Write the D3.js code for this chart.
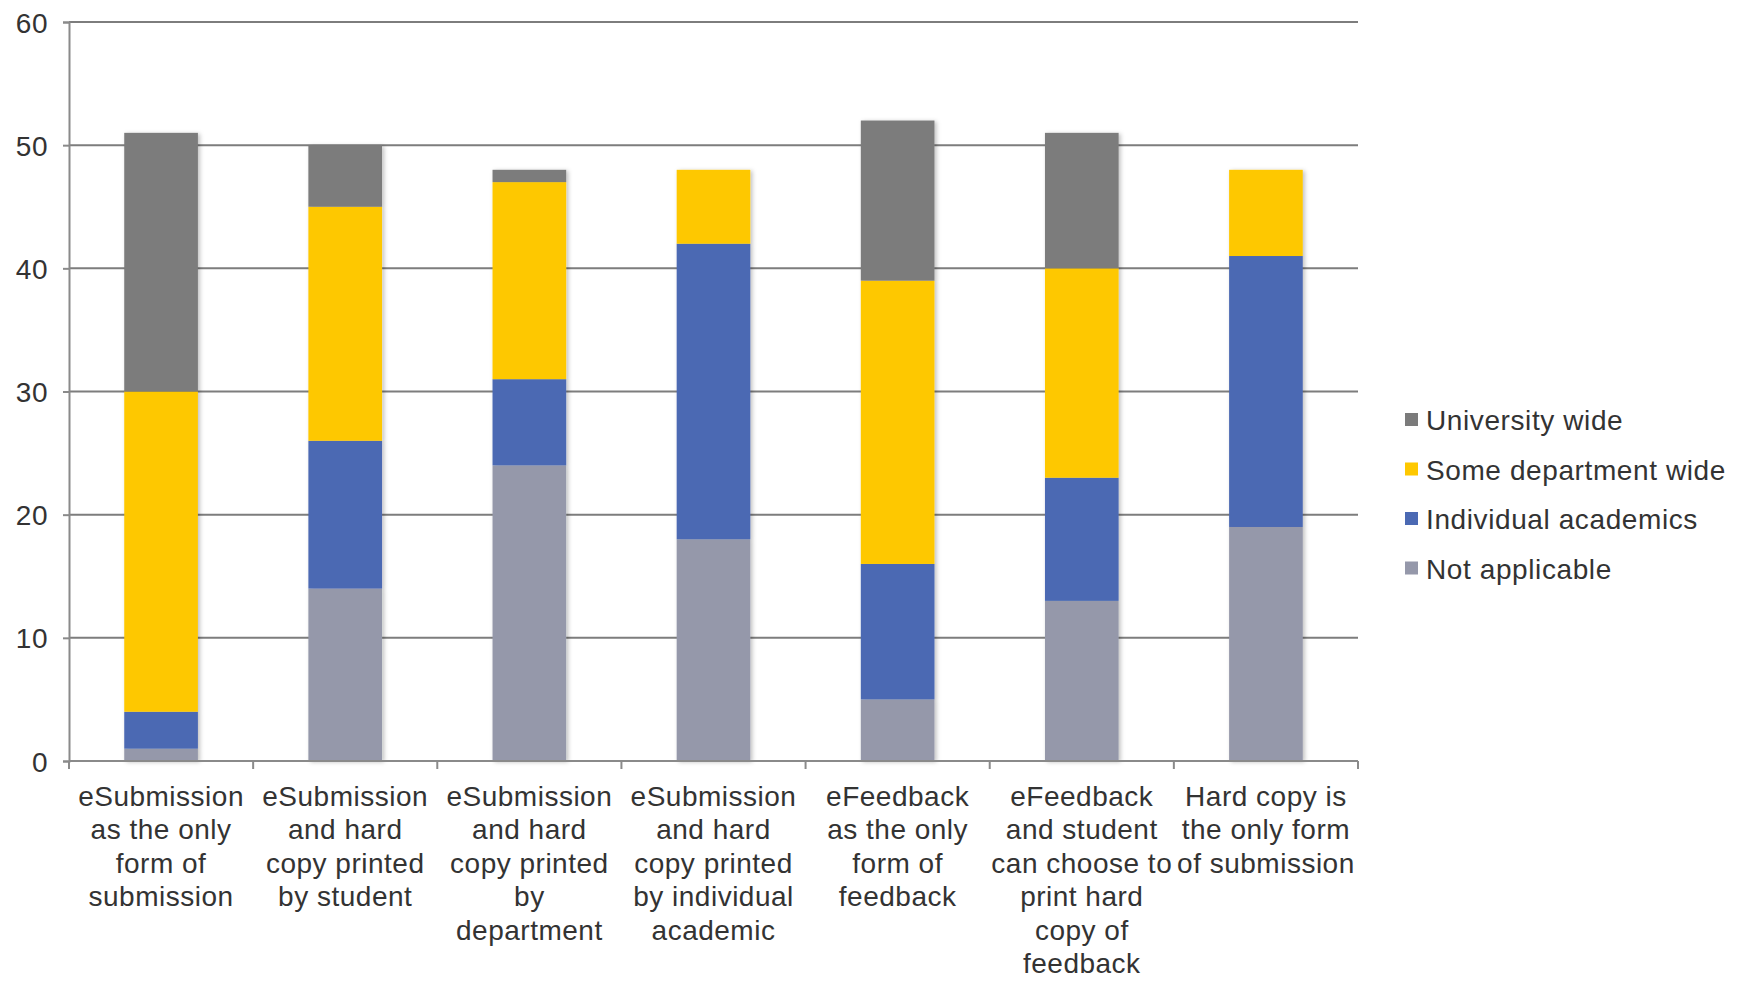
<!DOCTYPE html>
<html>
<head>
<meta charset="utf-8">
<script src="https://cdn.jsdelivr.net/npm/d3@7"></script>
<style>
  html, body { margin: 0; padding: 0; background: #fff; }
  svg { display: block; }
  text { font-family: "Liberation Sans", Arial, sans-serif; fill: #333; }
</style>
</head>
<body>
<svg id="chart" width="1746" height="983"></svg>
<script>
const categories = [
  "eSubmission\nas the only\nform of\nsubmission",
  "eSubmission\nand hard\ncopy printed\nby student",
  "eSubmission\nand hard\ncopy printed\nby\ndepartment",
  "eSubmission\nand hard\ncopy printed\nby individual\nacademic",
  "eFeedback\nas the only\nform of\nfeedback",
  "eFeedback\nand student\ncan choose to\nprint hard\ncopy of\nfeedback",
  "Hard copy is\nthe only form\nof submission"
];
const seriesNames = ["Not applicable", "Individual academics", "Some department wide", "University wide"];
const notApplicable   = [1, 14, 24, 18, 5, 13, 19];
const individual      = [3, 12, 7, 24, 11, 10, 22];
const someDepartment  = [26, 19, 16, 6, 23, 17, 7];
const universityWide  = [21, 5, 1, 0, 13, 11, 0];
const yTicks = [0, 10, 20, 30, 40, 50, 60];
const colors = ["#9598aa", "#4b69b3", "#fec800", "#7b7b7b"];

const seriesValues = [notApplicable, individual, someDepartment, universityWide];
const table = categories.map((c, i) => {
  const row = { cat: c };
  seriesNames.forEach((s, k) => row[s] = seriesValues[k][i]);
  return row;
});

const svg = d3.select("#chart");
const mLeft = 69, mRight = 1358, mTop = 22, mBottom = 761;

const x = d3.scaleBand().domain(categories).range([mLeft, mRight]).paddingInner(0.6).paddingOuter(0.3);
const y = d3.scaleLinear().domain([0, 60]).range([mBottom, mTop]);

const defs = svg.append("defs");
const f = defs.append("filter").attr("id", "shadow").attr("x", "-20%").attr("y", "-5%").attr("width", "140%").attr("height", "110%");
f.append("feDropShadow").attr("dx", 2).attr("dy", 1).attr("stdDeviation", 2).attr("flood-color", "#000").attr("flood-opacity", 0.25);

// gridlines
svg.append("g").selectAll("line").data(yTicks.filter(d => d > 0)).join("line")
  .attr("x1", mLeft).attr("x2", mRight)
  .attr("y1", d => y(d)).attr("y2", d => y(d))
  .attr("stroke", "#7d7d7d").attr("stroke-width", 2);

// y axis
const yAxis = svg.append("g").attr("transform", `translate(${mLeft},0)`)
  .call(d3.axisLeft(y).tickValues(yTicks).tickSize(6).tickPadding(15));
yAxis.select(".domain").attr("stroke", "#8a8a8a").attr("stroke-width", 2);
yAxis.selectAll(".tick line").attr("stroke", "#8a8a8a").attr("stroke-width", 2);
yAxis.selectAll(".tick text").style("font-size", "28px").style("letter-spacing", "0.5px")
  .attr("fill", "#333").attr("dy", "0.36em");

// stacked bars
const stack = d3.stack().keys(seriesNames);
const stacked = stack(table);
svg.append("g").attr("filter", "url(#shadow)").selectAll("g").data(stacked).join("g")
  .attr("fill", (d, i) => colors[i])
  .selectAll("rect").data(d => d).join("rect")
  .attr("x", d => x(d.data.cat))
  .attr("width", x.bandwidth())
  .attr("y", d => y(d[1]))
  .attr("height", d => y(d[0]) - y(d[1]));

// x axis
const xg = svg.append("g");
xg.append("line").attr("x1", mLeft).attr("x2", mRight).attr("y1", mBottom).attr("y2", mBottom)
  .attr("stroke", "#8a8a8a").attr("stroke-width", 2);
const boundaries = categories.map((c, i) => x(c) - x.step() * x.paddingInner() / 2);
boundaries.push(mRight);
xg.selectAll("line.tk").data(boundaries).join("line").attr("class", "tk")
  .attr("x1", d => d).attr("x2", d => d).attr("y1", mBottom).attr("y2", mBottom + 8)
  .attr("stroke", "#8a8a8a").attr("stroke-width", 2);

// x labels
const lab = xg.selectAll("text.lab").data(categories).join("text").attr("class", "lab")
  .attr("x", d => x(d) + x.bandwidth() / 2)
  .attr("y", 806)
  .attr("text-anchor", "middle")
  .style("font-size", "28px").style("letter-spacing", "0.5px");
lab.each(function(d) {
  const t = d3.select(this);
  d.split("\n").forEach((line, i) => {
    t.append("tspan").attr("x", x(d) + x.bandwidth() / 2).attr("y", 806 + i * 33.4).text(line);
  });
});

// legend
const legendOrder = [3, 2, 1, 0];
const lg = svg.append("g").attr("transform", "translate(1405,420)");
legendOrder.forEach((k, i) => {
  const g = lg.append("g").attr("transform", `translate(0,${i * 49.5})`);
  g.append("rect").attr("x", 0).attr("y", -7).attr("width", 13).attr("height", 13).attr("fill", colors[k]);
  g.append("text").attr("x", 21).attr("y", 0).attr("dy", "0.36em")
    .style("font-size", "28px").style("letter-spacing", "0.6px").text(seriesNames[k]);
});
</script>
</body>
</html>
